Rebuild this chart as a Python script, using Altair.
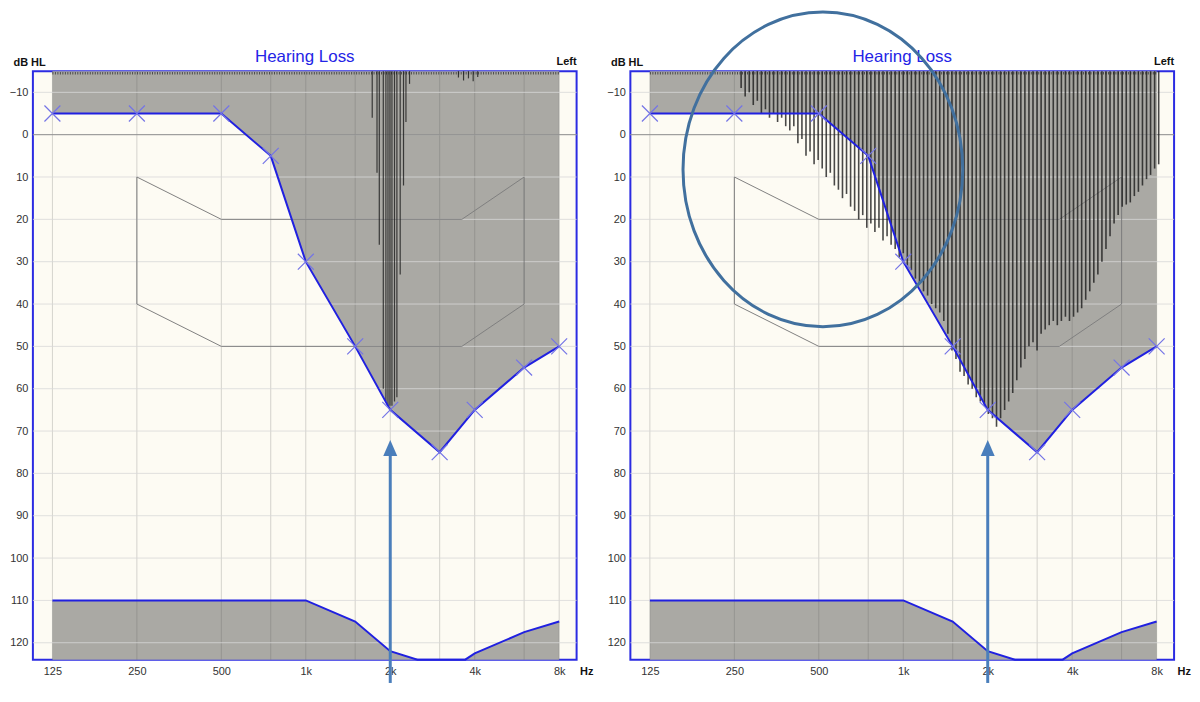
import altair as alt
import pandas as pd

# ---------------- data ----------------
THR_FREQ = [125, 250, 500, 750, 1000, 1500, 2000, 3000, 4000, 6000, 8000]
THR_DB = [-5, -5, -5, 5, 30, 50, 65, 75, 65, 55, 50]

UCL_FREQ = [125, 1000, 1500, 2000, 2500, 3700, 4000, 6000, 8000]
UCL_DB = [110, 110, 115, 122, 124, 124, 122.5, 117.5, 115]

BANANA_FREQ = [250, 500, 3600, 6000, 6000, 3600, 500, 250, 250]
BANANA_DB = [10, 20, 20, 10, 40, 50, 50, 40, 10]

LEFT_LINE_FREQ = [1725, 1794, 1828, 1889, 1930, 1963, 1995, 2028, 2071, 2112,
                  2170, 2230, 2275, 2343, 3500, 3650, 3800, 3950, 4100]
LEFT_LINE_DB = [-4, 9, 26, 60, 63, 64, 64, 64, 63, 62,
                33, 12, -3, -12, -13.5, -12.8, -13.3, -12.6, -13.6]

RIGHT_LINE_FREQ = [264.3, 273.2, 282.5, 292.0, 301.9, 312.1, 322.7, 333.6, 344.9, 356.5,
                   368.6, 381.1, 394.0, 407.3, 421.1, 435.3, 450.1, 465.3, 481.0, 497.3,
                   514.1, 531.5, 549.5, 568.1, 587.3, 607.2, 627.7, 649.0, 670.9, 693.6,
                   717.0, 741.3, 766.4, 792.3, 819.1, 846.8, 875.5, 905.1, 935.7, 967.4,
                   1000, 1033.8, 1068.8, 1105.0, 1142.4, 1181.0, 1221.0, 1262.3, 1305.0, 1349.1,
                   1394.7, 1441.9, 1490.7, 1541.1, 1593.3, 1647.2, 1702.9, 1760.5, 1820.1, 1881.7,
                   1945.3, 2011.1, 2079.2, 2149.5, 2222.2, 2297.4, 2375.2, 2455.5, 2538.6, 2624.5,
                   2713.2, 2805.0, 2899.9, 2998.0, 3099.5, 3204.3, 3312.7, 3424.8, 3540.7, 3660.5,
                   3784.3, 3912.3, 4044.7, 4181.5, 4323.0, 4469.3, 4620.5, 4776.8, 4938.4, 5105.5,
                   5278.0, 5456.6, 5641.2, 5832.1, 6029.4, 6233.4, 6444.3, 6662.3, 6887.7, 7120.7,
                   7361.7, 7610.7, 7868.2, 8134.4]
RIGHT_LINE_DB = [-11, -9, -10, -7, -8, -5, -6, -4, -5, -3,
                 -4, -2, -1, -2, 2, 1, 5, 4, 7, 6,
                 8, 10, 9, 12, 13, 15, 14, 17, 18, 20,
                 19, 22, 21, 23, 22, 25, 24, 26, 27, 29,
                 28, 31, 32, 34, 35, 37, 38, 40, 41, 42,
                 44, 47, 51, 53, 56, 57, 59, 60, 62, 63,
                 64, 66, 67, 69, 67, 65, 63, 61, 58, 55,
                 53, 50, 49, 51, 47, 46, 45, 44, 45, 44,
                 43, 44, 43, 42, 41, 39, 37, 35, 33, 30,
                 27, 24, 21, 19, 17, 16.5, 16, 14.5, 13.5, 12,
                 10.5, 9.5, 8, 7]

X_GRID = [125, 250, 500, 750, 1000, 1500, 2000, 3000, 4000, 6000, 8000]
X_LABEL_VALUES = [125, 250, 500, 1000, 2000, 4000, 8000]
X_LABEL_TEXT = ["125", "250", "500", "1k", "2k", "4k", "8k"]
Y_TICKS = [-10, 0, 10, 20, 30, 40, 50, 60, 70, 80, 90, 100, 110, 120]

TOP_DB, BOTTOM_DB = -15, 124
BAND = {"f": [125], "f2": [8000], "db": [-14.5]}
ARROW = {"f": [2000], "db": [75], "db2": [129.5]}
ARROW_HEAD = {"f": [2000], "db": [74]}
CIRCLE = {"f": [517], "db": [8.2]}

# ---------------- style ----------------
W, H = 546, 591
CREAM = "#fdfbf3"
GRAY = "#aaa9a4"
BLUE = "#2020e0"
MARK_BLUE = "#7474e6"
FRAME = "#2b2be2"
ARROW_C = "#4a7ebb"
CIRCLE_C = "#41709e"
FONT = "Liberation Sans"

XPATH = "M-1,-1L1,1M-1,1L1,-1"
HEAD = "M0,-0.9L0.78,0.9L-0.78,0.9Z"
ELLIPSE = ("M0.889,0C0.889,0.5523 0.491,1 0,1C-0.491,1 -0.889,0.5523 -0.889,0"
           "C-0.889,-0.5523 -0.491,-1 0,-1C0.491,-1 0.889,-0.5523 0.889,0Z")

label_expr = " : ".join(
    f"datum.value == {v} ? '{t}'" for v, t in zip(X_LABEL_VALUES, X_LABEL_TEXT)
) + " : ''"

xscale = alt.Scale(type="log", domain=[106.5, 9230], nice=False)
yscale = alt.Scale(domain=[TOP_DB, BOTTOM_DB], reverse=True, nice=False, zero=False)

xaxis = alt.Axis(values=X_GRID, labelExpr=label_expr, grid=False, ticks=False,
                 domain=False, labelPadding=6, labelFontSize=11, labelFont=FONT,
                 labelColor="#333", labelFlush=False, labelOverlap=False,
                 title="Hz", titleX=W + 3, titleY=12, titleAlign="left",
                 titleBaseline="middle", titleFontWeight="bold", titleFontSize=11,
                 titleFont=FONT, titleColor="#111")
yaxis = alt.Axis(values=Y_TICKS, grid=False, ticks=False, domain=False,
                 labelPadding=5, labelFontSize=11, labelFont=FONT, labelColor="#333",
                 labelFlush=False, labelOverlap=False,
                 title="dB HL", titleAngle=0, titleX=-20, titleY=-9, titleAlign="left",
                 titleBaseline="middle", titleFontWeight="bold", titleFontSize=11,
                 titleFont=FONT, titleColor="#111")

X = alt.X("f:Q", scale=xscale, axis=xaxis)
Y = alt.Y("db:Q", scale=yscale, axis=yaxis)


def panel(line_freq, line_db, line_width, with_circle):
    thr = pd.DataFrame({"f": THR_FREQ, "db": THR_DB})
    ucl = pd.DataFrame({"f": UCL_FREQ, "db": UCL_DB})
    ban = pd.DataFrame({"f": BANANA_FREQ, "db": BANANA_DB,
                        "i": list(range(len(BANANA_FREQ)))})
    lines = pd.DataFrame({"f": line_freq, "db": line_db})
    vg = pd.DataFrame({"f": X_GRID})
    hg = pd.DataFrame({"db": Y_TICKS})
    txt = pd.DataFrame({"t": ["Hearing Loss"]})
    side = pd.DataFrame({"t": ["Left"]})

    layers = [
        alt.Chart(thr).mark_area(color=GRAY, opacity=1).encode(
            x=X, y=Y, y2=alt.datum(TOP_DB)),
        alt.Chart(ucl).mark_area(color=GRAY, opacity=1).encode(
            x=X, y=Y, y2=alt.datum(BOTTOM_DB)),
        alt.Chart(vg).mark_rule(color="#5a5a5a", opacity=0.25, strokeWidth=1).encode(x=X),
        alt.Chart(hg).mark_rule(color="#d8d8d8", opacity=0.8, strokeWidth=1).encode(y=Y),
        alt.Chart(pd.DataFrame({"db": [0]})).mark_rule(
            color="#7a7a7a", opacity=0.8, strokeWidth=1).encode(y=Y),
        alt.Chart(ban).mark_line(color="#7f7f7f", strokeWidth=1).encode(
            x=X, y=Y, order="i:Q"),
        alt.Chart(pd.DataFrame(BAND)).mark_rule(
            color="#333", strokeDash=[1, 1.5], strokeWidth=2.5, opacity=0.8).encode(
            x=X, x2="f2:Q", y=Y),
        alt.Chart(lines).mark_rule(color="#1c1c1c", opacity=0.8,
                                   strokeWidth=line_width).encode(
            x=X, y=Y, y2=alt.datum(TOP_DB)),
        alt.Chart(thr).mark_line(color=BLUE, strokeWidth=2).encode(x=X, y=Y),
        alt.Chart(thr).mark_point(shape=XPATH, size=256, filled=False, color=MARK_BLUE,
                                  strokeWidth=1.2, opacity=1).encode(x=X, y=Y),
        alt.Chart(ucl).mark_line(color=BLUE, strokeWidth=2).encode(x=X, y=Y),
        alt.Chart(pd.DataFrame(ARROW)).mark_rule(color=ARROW_C, strokeWidth=3).encode(
            x=X, y=Y, y2="db2:Q"),
        alt.Chart(pd.DataFrame(ARROW_HEAD)).mark_point(
            shape=HEAD, size=324, filled=True, color=ARROW_C, opacity=1).encode(x=X, y=Y),
        alt.Chart(side).mark_text(
            align="right", baseline="middle", font=FONT, fontSize=11,
            fontWeight="bold", color="#111").encode(
            text="t:N", x=alt.value(W), y=alt.value(-9)),
        alt.Chart(txt).mark_text(
            align="center", baseline="alphabetic", font=FONT, fontSize=17,
            color="#2424e6").encode(
            text="t:N", x=alt.value(W / 2), y=alt.value(-9)),
    ]
    if with_circle:
        layers.append(
            alt.Chart(pd.DataFrame(CIRCLE)).mark_point(
                shape=ELLIPSE, size=99856, filled=False, color=CIRCLE_C,
                strokeWidth=3, opacity=1).encode(x=X, y=Y))
    return alt.layer(*layers).properties(
        width=W, height=H,
        view=alt.ViewBackground(fill=CREAM, stroke=FRAME, strokeWidth=2))


left = panel(LEFT_LINE_FREQ, LEFT_LINE_DB, 1.2, False)
right = panel(RIGHT_LINE_FREQ, RIGHT_LINE_DB, 1.6, True)

chart = alt.hconcat(left, right, spacing=54, bounds="flush").configure_view(
    fill=CREAM, stroke=FRAME, strokeWidth=2
).configure(background="white").properties(
    padding={"left": 0, "top": -5, "right": 0, "bottom": 0}
)

chart.save("out.html", embed_options={"renderer": "svg", "actions": False})
